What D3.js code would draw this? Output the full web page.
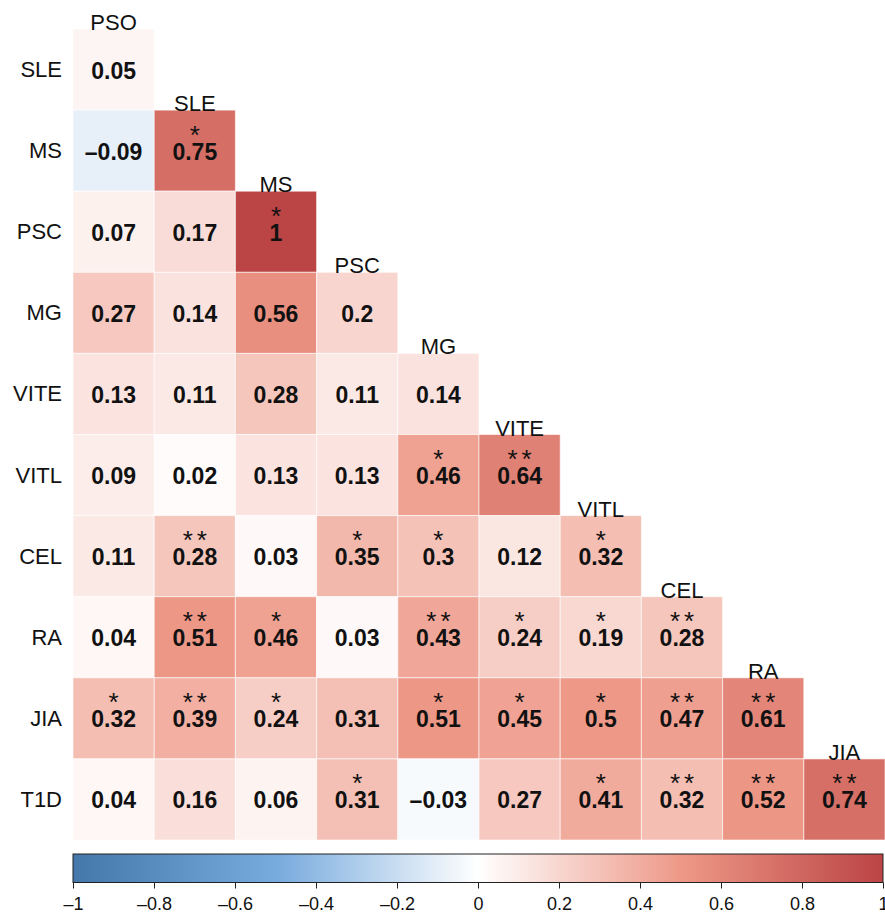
<!DOCTYPE html>
<html lang="en">
<head>
  <meta charset="UTF-8" />
  <title>Correlation heatmap</title>
  <script src="https://d3js.org/d3.v7.min.js"></script>
  <style>
    body {
      margin: 0;
      background: white;
      font-family: "Liberation Sans", Arial, Helvetica, sans-serif;
    }
    svg { display: block; }
  </style>
</head>
<body>
  <svg id="chart" width="885" height="920"></svg>

  <script>
    // Data
    const columns = ["PSO", "SLE", "MS", "PSC", "MG", "VITE", "VITL", "CEL", "RA", "JIA"];
    const rows = ["SLE", "MS", "PSC", "MG", "VITE", "VITL", "CEL", "RA", "JIA", "T1D"];

    // lower triangle, row by row
    const values = [
      [0.05],
      [-0.09, 0.75],
      [0.07, 0.17, 1],
      [0.27, 0.14, 0.56, 0.2],
      [0.13, 0.11, 0.28, 0.11, 0.14],
      [0.09, 0.02, 0.13, 0.13, 0.46, 0.64],
      [0.11, 0.28, 0.03, 0.35, 0.3, 0.12, 0.32],
      [0.04, 0.51, 0.46, 0.03, 0.43, 0.24, 0.19, 0.28],
      [0.32, 0.39, 0.24, 0.31, 0.51, 0.45, 0.5, 0.47, 0.61],
      [0.04, 0.16, 0.06, 0.31, -0.03, 0.27, 0.41, 0.32, 0.52, 0.74]
    ];
    const stars = [
      [""],
      ["", "*"],
      ["", "", "*"],
      ["", "", "", ""],
      ["", "", "", "", ""],
      ["", "", "", "", "*", "**"],
      ["", "**", "", "*", "*", "", "*"],
      ["", "**", "*", "", "**", "*", "*", "**"],
      ["*", "**", "*", "", "*", "*", "*", "**", "**"],
      ["", "", "", "*", "", "", "*", "**", "**", "**"]
    ];
    const legendTicks = [-1, -0.8, -0.6, -0.4, -0.2, 0, 0.2, 0.4, 0.6, 0.8, 1];

    const svg = d3.select("#chart");

    const x = d3.scaleBand().domain(columns).range([73, 885]);
    const y = d3.scaleBand().domain(rows).range([29, 840]);

    const color = d3.scaleLinear()
      .domain([-1, -0.5, 0, 0.5, 1])
      .range(["#4477AA", "#77AADD", "#FFFFFF", "#EE9988", "#BB4444"]);

    const fmt = v => (v < 0 ? "\u2013" : "") + String(Math.abs(v));

    const cells = [];
    values.forEach((r, i) => r.forEach((v, j) => {
      cells.push({ row: rows[i], col: columns[j], v: v, s: stars[i][j] });
    }));

    const g = svg.append("g");

    g.selectAll("rect")
      .data(cells)
      .enter()
      .append("rect")
      .attr("x", d => x(d.col))
      .attr("y", d => y(d.row))
      .attr("width", x.bandwidth())
      .attr("height", y.bandwidth())
      .attr("fill", d => color(d.v))
      .attr("stroke", "white")
      .attr("stroke-opacity", 0.6)
      .attr("stroke-width", 1);

    g.selectAll("text.val")
      .data(cells)
      .enter()
      .append("text")
      .attr("class", "val")
      .attr("x", d => x(d.col) + x.bandwidth() / 2)
      .attr("y", d => y(d.row) + y.bandwidth() / 2 + 9)
      .attr("text-anchor", "middle")
      .attr("font-size", 23)
      .attr("font-weight", "bold")
      .attr("fill", "#111")
      .text(d => fmt(d.v));

    g.selectAll("text.star")
      .data(cells.filter(d => d.s))
      .enter()
      .append("text")
      .attr("class", "star")
      .attr("x", d => x(d.col) + x.bandwidth() / 2)
      .attr("y", d => y(d.row) + y.bandwidth() / 2 - 7)
      .attr("text-anchor", "middle")
      .attr("font-size", 26)
      .attr("letter-spacing", d => d.s.length > 1 ? 4 : 0)
      .attr("dx", d => d.s.length > 1 ? 2 : 0)
      .attr("fill", "#111")
      .text(d => d.s);

    // row labels
    svg.append("g").selectAll("text")
      .data(rows)
      .enter()
      .append("text")
      .attr("x", 62)
      .attr("y", d => y(d) + y.bandwidth() / 2 + 7.5)
      .attr("text-anchor", "end")
      .attr("font-size", 22)
      .attr("fill", "#111")
      .text(d => d);

    // column labels sit on top of the diagonal cell
    svg.append("g").selectAll("text")
      .data(columns)
      .enter()
      .append("text")
      .attr("x", d => x(d) + x.bandwidth() / 2)
      .attr("y", (d, i) => y(rows[i]) + 1)
      .attr("text-anchor", "middle")
      .attr("font-size", 22)
      .attr("fill", "#111")
      .text(d => d);

    // colour bar
    const lx = d3.scaleLinear().domain([-1, 1]).range([73, 883]);
    const defs = svg.append("defs");
    const grad = defs.append("linearGradient").attr("id", "cbar");
    d3.range(0, 1.0001, 0.05).forEach(t => {
      grad.append("stop")
        .attr("offset", t)
        .attr("stop-color", color(-1 + 2 * t));
    });

    svg.append("rect")
      .attr("x", lx(-1))
      .attr("y", 854)
      .attr("width", lx(1) - lx(-1))
      .attr("height", 28.5)
      .attr("fill", "url(#cbar)")
      .attr("stroke", "#222")
      .attr("stroke-width", 1);

    const axis = svg.append("g")
      .attr("transform", "translate(0,882.5)")
      .call(d3.axisBottom(lx)
        .tickValues(legendTicks)
        .tickSize(6)
        .tickFormat(fmt));
    axis.select(".domain").remove();
    axis.selectAll("line").attr("stroke", "#222");
    axis.selectAll("text")
      .attr("font-size", 18)
      .attr("font-family", "Liberation Sans, Arial, sans-serif")
      .attr("fill", "#111")
      .attr("dy", "1.05em");
  </script>
</body>
</html>
